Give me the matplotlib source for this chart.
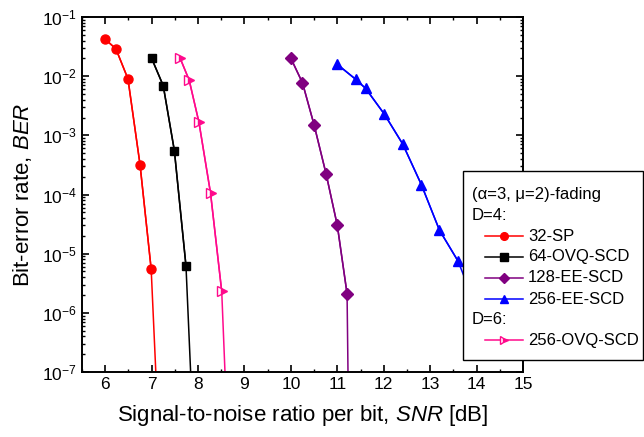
"""BER vs SNR curves for (alpha=3, mu=2)-fading, D=4 / D=6 schemes."""
import matplotlib
matplotlib.use("Agg")
import matplotlib.pyplot as plt
from matplotlib.lines import Line2D
from matplotlib.patches import Rectangle
from matplotlib.ticker import LogLocator, MultipleLocator, NullFormatter

plt.rcParams["font.family"] = ["Liberation Sans", "DejaVu Sans"]
plt.rcParams["mathtext.fontset"] = "custom"
plt.rcParams["mathtext.rm"] = "Liberation Sans"
plt.rcParams["mathtext.it"] = "Liberation Sans:italic"

# marker points (SNR [dB], BER); tail = where line hits 1e-7
snr_32sp = [6.0, 6.23, 6.49, 6.75, 6.99]
ber_32sp = [4.2e-2, 2.9e-2, 9.0e-3, 3.2e-4, 5.5e-6]
tail_32sp = (7.09, 1e-7)

snr_64ovq = [7.0, 7.25, 7.49, 7.74]
ber_64ovq = [2.0e-2, 6.9e-3, 5.5e-4, 6.2e-6]
tail_64ovq = (7.84, 1e-7)

snr_128ee = [10.0, 10.25, 10.5, 10.76, 11.0, 11.21]
ber_128ee = [2.0e-2, 7.7e-3, 1.5e-3, 2.2e-4, 3.0e-5, 2.1e-6]
tail_128ee = (11.23, 1e-7)

snr_256ee = [11.0, 11.4, 11.61, 12.01, 12.41, 12.81, 13.2, 13.6]
ber_256ee = [1.58e-2, 8.8e-3, 6.2e-3, 2.3e-3, 7.1e-4, 1.47e-4, 2.5e-5, 7.5e-6]
tail_256ee = (13.8, 3.0e-6)

snr_256ovq = [7.61, 7.81, 8.02, 8.27, 8.51]
ber_256ovq = [2.05e-2, 8.5e-3, 1.65e-3, 1.04e-4, 2.3e-6]
tail_256ovq = (8.58, 1e-7)

series = [
    ("32-SP", snr_32sp, ber_32sp, tail_32sp, "#FF0000", "o", 6.5, "full"),
    ("64-OVQ-SCD", snr_64ovq, ber_64ovq, tail_64ovq, "#000000", "s", 6, "full"),
    ("128-EE-SCD", snr_128ee, ber_128ee, tail_128ee, "#800080", "D", 6, "full"),
    ("256-EE-SCD", snr_256ee, ber_256ee, tail_256ee, "#0000FF", "^", 7, "full"),
    ("256-OVQ-SCD", snr_256ovq, ber_256ovq, tail_256ovq, "#FF0A8C", ">", 7, "right"),
]

fig = plt.figure(figsize=(6.44, 4.37), dpi=100)
ax = fig.add_axes([82 / 644, 1 - 372 / 437, (523 - 82) / 644, (372 - 17) / 437])

handles = {}
for name, x, y, tail, color, mk, ms, fs in series:
    ax.plot(list(x) + [tail[0]], list(y) + [tail[1]], color=color, lw=1.1, zorder=2)
    h, = ax.plot(x, y, ls="-", lw=1.1, color=color, marker=mk, ms=ms,
                 fillstyle=fs, markerfacecoloralt="white", mec=color, zorder=3)
    handles[name] = h

ax.set_yscale("log")
ax.set_xlim(5.5, 15)
ax.set_ylim(1e-7, 1e-1)
ax.xaxis.set_major_locator(MultipleLocator(1))
ax.xaxis.set_minor_locator(MultipleLocator(0.5))
ax.yaxis.set_major_locator(LogLocator(base=10, numticks=10))
ax.yaxis.set_minor_locator(LogLocator(base=10, subs=range(2, 10), numticks=20))
ax.yaxis.set_minor_formatter(NullFormatter())
ax.tick_params(which="both", direction="in", top=True, right=True, labelsize=12.5)
ax.tick_params(which="major", length=5, width=1.2)
ax.tick_params(which="minor", length=2.5, width=1.0)
for sp in ax.spines.values():
    sp.set_linewidth(1.4)

ax.set_xlabel(r"Signal-to-noise ratio per bit, $\it{SNR}$ [dB]", fontsize=16, labelpad=8)
ax.set_ylabel(r"Bit-error rate, $\it{BER}$", fontsize=16, labelpad=6)

# hand-built legend box (extends past the axes to the figure edge)
px = lambda xp, yp: (xp / 644, 1 - yp / 437)
box_x0, box_y0 = px(463, 360)
fig.patches.append(Rectangle((box_x0, box_y0), (643 - 463) / 644, (360 - 171) / 437,
                             transform=fig.transFigure, facecolor="white",
                             edgecolor="black", lw=1.0, zorder=5))
legend_rows = [
    ("(α=3, μ=2)-fading", None, 195),
    ("D=4:", None, 215),
    ("32-SP", "32-SP", 236),
    ("64-OVQ-SCD", "64-OVQ-SCD", 257),
    ("128-EE-SCD", "128-EE-SCD", 278),
    ("256-EE-SCD", "256-EE-SCD", 299),
    ("D=6:", None, 319),
    ("256-OVQ-SCD", "256-OVQ-SCD", 340),
]
for text, key, yp in legend_rows:
    if key is None:
        fig.text(*px(472, yp), text, fontsize=12, va="center", ha="left", zorder=6)
        continue
    h = handles[key]
    x0, yy = px(485, yp)
    x1, _ = px(523, yp)
    fig.add_artist(Line2D([x0, x1], [yy, yy], color=h.get_color(), lw=1.1,
                          transform=fig.transFigure, zorder=6))
    fig.add_artist(Line2D([(x0 + x1) / 2], [yy], ls="none", marker=h.get_marker(),
                          ms=h.get_markersize() * 0.85, color=h.get_color(),
                          mec=h.get_color(), fillstyle=h.get_fillstyle(),
                          markerfacecoloralt="white", transform=fig.transFigure, zorder=6))
    fig.text(*px(528, yp), text, fontsize=12, va="center", ha="left", zorder=6)

fig.savefig("out.png", dpi=100)
